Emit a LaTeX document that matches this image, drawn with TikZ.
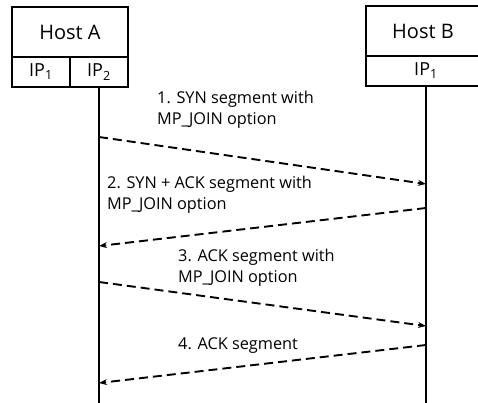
\documentclass[tikz,border=0pt]{standalone}
\usepackage{fontspec}
\setmainfont{Open Sans}
\usetikzlibrary{arrows.meta}
\begin{document}
\begin{tikzpicture}[x=1pt,y=-1pt,
  hostbox/.style={draw,line width=1.4pt,inner sep=0pt,font=\fontsize{20}{24}\selectfont},
  ipbox/.style={draw,line width=1.4pt,inner sep=0pt,font=\fontsize{18}{21}\selectfont},
  life/.style={line width=1.8pt},
  msg/.style={line width=1.9pt,dash pattern=on 9pt off 5pt,-{Stealth[length=8pt,width=6pt]}},
  lbl/.style={anchor=north west,align=left,inner sep=0pt,font=\fontsize{16.3}{21}\selectfont}]
\useasboundingbox (0,0) rectangle (478,403);
\node[hostbox,minimum width=116pt,minimum height=50pt] (ha) at (70,32) {Host A};
\node[ipbox,minimum width=58pt,minimum height=30pt] (ip1) at (41,72) {IP\textsubscript{1}};
\node[ipbox,minimum width=58pt,minimum height=30pt] (ip2) at (99,72) {IP\textsubscript{2}};
\node[hostbox,minimum width=114pt,minimum height=50pt] (hb) at (423,31) {Host B};
\node[ipbox,minimum width=114pt,minimum height=30pt] (ipb) at (423,71) {\hspace*{6pt}IP\textsubscript{1}};
\coordinate (abot) at (99,403);
\coordinate (bbot) at (426,403);
\draw[life] (ip2.south) -- (abot);
\draw[life] (426,86) -- (bbot);
\coordinate (a1) at (99,137); \coordinate (b1) at (426,184);
\coordinate (b2) at (426,208); \coordinate (a2) at (99,246);
\coordinate (a3) at (99,282); \coordinate (b3) at (426,326);
\coordinate (b4) at (426,345); \coordinate (a4) at (99,383);
\draw[msg] (a1) -- (b1);
\draw[msg] (b2) -- (a2);
\draw[msg] (a3) -- (b3);
\draw[msg] (b4) -- (a4);
\node[lbl] (l1) at (157,91) {1. SYN segment with\\MP\_JOIN option};
\node[lbl] (l2) at (107,176) {2. SYN + ACK segment with\\MP\_JOIN option};
\node[lbl] (l3) at (178,249) {3. ACK segment with\\MP\_JOIN option};
\node[lbl] (l4) at (178,337) {4. ACK segment};
\end{tikzpicture}
\end{document}
